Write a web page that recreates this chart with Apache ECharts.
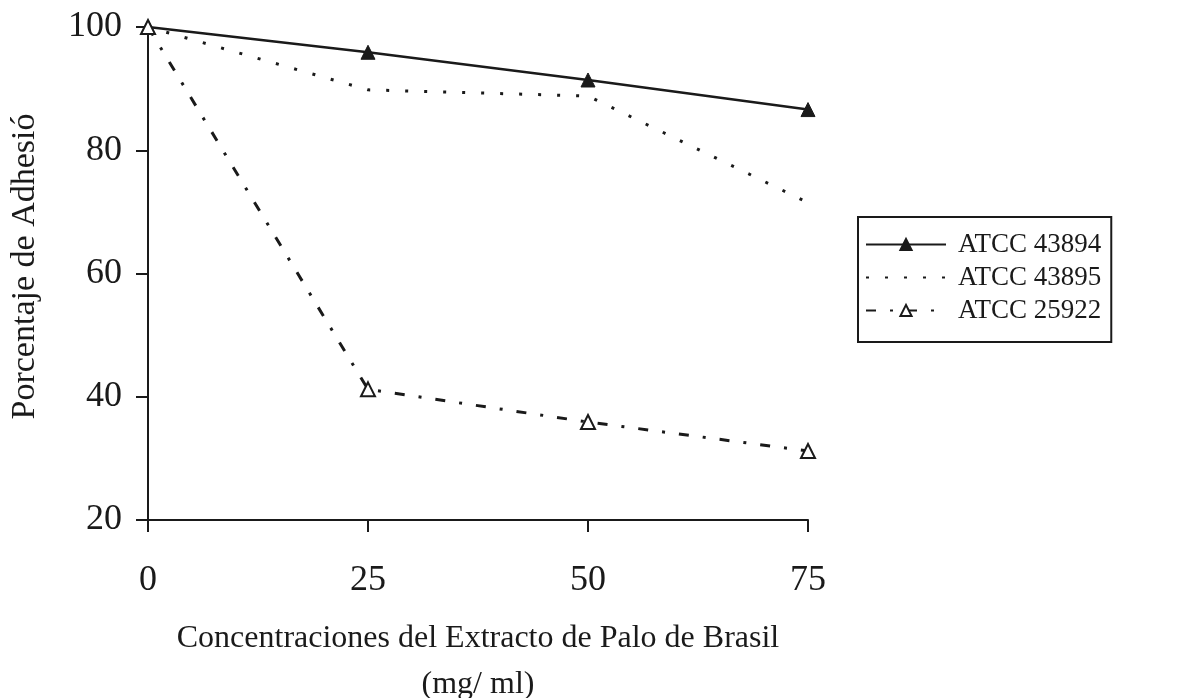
<!DOCTYPE html>
<html>
<head>
<meta charset="utf-8">
<script src="https://cdn.jsdelivr.net/npm/echarts@6/dist/echarts.min.js"></script>
<style>
html,body{margin:0;padding:0;background:#fff;}
#chart{width:1180px;height:698px;}
</style>
</head>
<body>
<div id="chart"></div>
<script>
// Data
var concentrations = [0, 25, 50, 75];
var seriesNames = ['ATCC 43894', 'ATCC 43895', 'ATCC 25922'];
var atcc43894 = [100, 95.9, 91.4, 86.6];
var atcc43895 = [100, 89.8, 88.8, 71.5];
var atcc25922 = [100, 41.2, 35.9, 31.2];
var yTicks = [20, 40, 60, 80, 100];
var xTicks = [0, 25, 50, 75];
var xTitle = 'Concentraciones del Extracto de Palo de Brasil\n(mg/ ml)';
var yTitle = 'Porcentaje de Adhesió';

function pairs(vals) {
  return concentrations.map(function (c, i) { return [c, vals[i]]; });
}

var FONT = '"Liberation Serif", "DejaVu Serif", serif';
var INK = '#1a1a1a';

var chart = echarts.init(document.getElementById('chart'), null, {renderer: 'canvas', width: 1180, height: 698});
chart.setOption({
  backgroundColor: '#ffffff',
  animation: false,
  textStyle: {fontFamily: FONT, color: INK},
  grid: {left: 148, top: 27, width: 660, height: 493, containLabel: false, outerBoundsMode: 'none'},
  legend: {
    orient: 'vertical',
    left: 858,
    top: 217,
    padding: [14, 10, 18, 7],
    itemWidth: 80,
    itemHeight: 14,
    itemGap: 6,
    borderColor: INK,
    borderWidth: 2,
    backgroundColor: '#fff',
    textStyle: {fontFamily: FONT, fontSize: 27, color: INK, padding: [0, 0, 0, 7]},
    data: [
      {name: seriesNames[0]},
      {name: seriesNames[1], itemStyle: {color: 'rgba(0,0,0,0)', borderWidth: 0}},
      {name: seriesNames[2]}
    ]
  },
  xAxis: {
    type: 'value',
    min: xTicks[0],
    max: xTicks[xTicks.length - 1],
    interval: 25,
    name: xTitle,
    nameLocation: 'middle',
    nameGap: 96,
    nameTextStyle: {fontFamily: FONT, fontSize: 32, color: INK, lineHeight: 46},
    axisLine: {onZero: false, lineStyle: {color: INK, width: 2}},
    axisTick: {show: true, inside: false, length: 12, lineStyle: {color: INK, width: 2}},
    axisLabel: {fontFamily: FONT, fontSize: 36, color: INK, margin: 43},
    splitLine: {show: false}
  },
  yAxis: {
    type: 'value',
    min: yTicks[0],
    max: yTicks[yTicks.length - 1],
    interval: 20,
    name: yTitle,
    nameLocation: 'middle',
    nameGap: 106,
    nameRotate: 90,
    nameTextStyle: {fontFamily: FONT, fontSize: 34, color: INK, padding: [0, 0, 0, 14]},
    axisLine: {show: true, onZero: false, lineStyle: {color: INK, width: 2}},
    axisTick: {show: true, inside: false, length: 12, lineStyle: {color: INK, width: 2}},
    axisLabel: {fontFamily: FONT, fontSize: 36, color: INK, margin: 26},
    splitLine: {show: false}
  },
  series: [
    {
      name: seriesNames[0],
      type: 'line',
      data: pairs(atcc43894),
      symbol: 'triangle',
      symbolSize: 14,
      showAllSymbol: true,
      itemStyle: {color: INK, borderColor: INK, borderWidth: 1},
      lineStyle: {color: INK, width: 2.5, type: 'solid'},
      z: 3
    },
    {
      name: seriesNames[1],
      type: 'line',
      data: pairs(atcc43895),
      symbol: 'none',
      itemStyle: {color: INK},
      lineStyle: {color: INK, width: 3, type: [3, 16]},
      z: 2
    },
    {
      name: seriesNames[2],
      type: 'line',
      data: pairs(atcc25922),
      symbol: 'triangle',
      symbolSize: 14,
      showAllSymbol: true,
      itemStyle: {color: '#ffffff', borderColor: INK, borderWidth: 2},
      lineStyle: {color: INK, width: 3, type: [10, 14, 3, 14]},
      z: 4
    }
  ]
});
</script>
</body>
</html>
